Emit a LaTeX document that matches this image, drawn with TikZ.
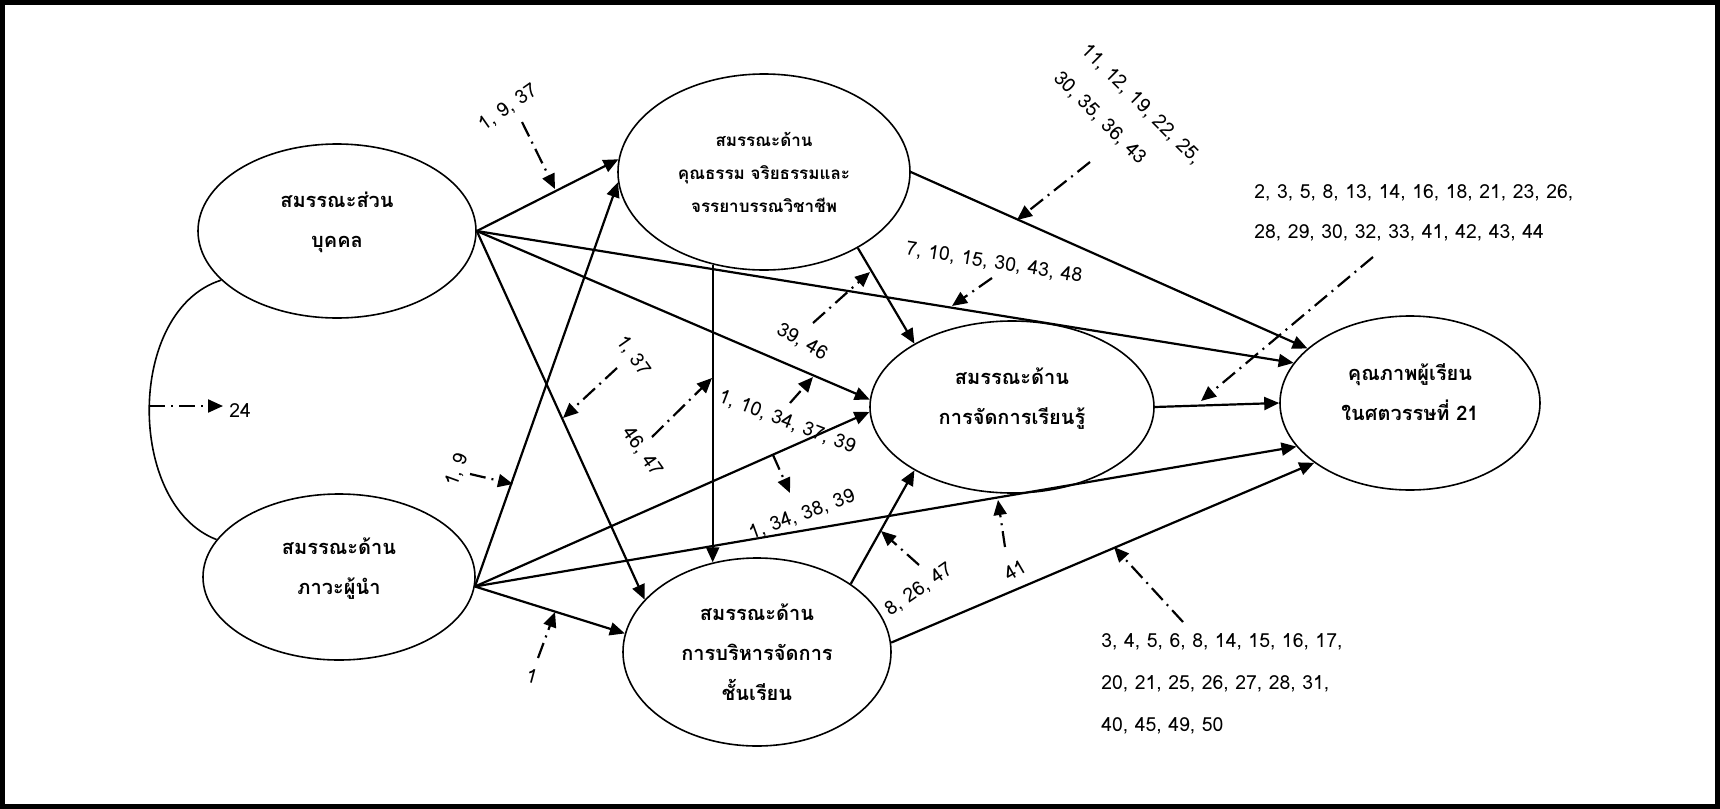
\documentclass[tikz,border=0pt]{standalone}
\usepackage{fontspec}
\setmainfont[Script=Thai]{Loma}
\usetikzlibrary{arrows.meta,shapes.geometric}
\newcommand\mylift{\rule[-11pt]{0pt}{11pt}}
\begin{document}
\begin{tikzpicture}[x=0.5pt,y=-0.5pt,
  ell/.style={draw, line width=0.8pt, ellipse, inner sep=0pt, align=center, font=\bfseries\fontsize{10}{20}\selectfont},
  arr/.style={-{Triangle[length=7.5pt,width=6.5pt]}, line width=1.1pt},
  mod/.style={-{Triangle[length=7.5pt,width=6.5pt]}, line width=1.1pt, dash pattern=on 8pt off 3pt on 1pt off 3pt},
  num/.style={font=\fontsize{9.7}{20.5}\selectfont, inner sep=0pt},
]
\useasboundingbox (0,0) rectangle (1720,809);
\draw[line width=2.5pt] (2.5,2.5) rectangle (1717.5,806.5);

% constructs
\node[ell, minimum width=139pt, minimum height=87pt] (e1) at (337,231) {สมรรณะส่วน\\บุคคล\mylift};
\node[ell, minimum width=136pt, minimum height=83pt] (e2) at (339,577) {สมรรณะด้าน\\ภาวะผู้นำ\mylift};
\node[ell, minimum width=146pt, minimum height=98pt, font=\bfseries\fontsize{8.5}{16.5}\selectfont] (e3) at (764,172) {สมรรณะด้าน\\คุณธรรม จริยธรรมและ\\จรรยาบรรณวิชาชีพ};
\node[ell, minimum width=142pt, minimum height=86pt] (e4) at (1012,407) {สมรรณะด้าน\\การจัดการเรียนรู้\mylift};
\node[ell, minimum width=134pt, minimum height=94pt] (e5) at (757,652) {สมรรณะด้าน\\การบริหารจัดการ\\ชั้นเรียน};
\node[ell, minimum width=130pt, minimum height=87pt] (e6) at (1410,403) {คุณภาพผู้เรียน\\ในศตวรรษที่ 21\mylift};

% covariance
\draw[line width=0.8pt] (e1.203) .. controls (126,310) and (126,505) .. (e2.163);

% paths
\draw[arr] (e1.east) -- (e3.175);
\draw[arr] (e1.east) -- (e5.155);
\draw[arr] (e1.east) -- (e4.177);
\draw[arr] (e1.east) -- (e6.161);
\draw[arr] (e2.-4) -- (e3.184);
\draw[arr] (e2.-4) -- (e4.182);
\draw[arr] (e2.-4) -- (e6.201);
\draw[arr] (e2.-4) -- (e5.172);
\draw[arr] (e3.241) -- (e5.116 -| e3.241);
\draw[arr] (e3.321) -- (e4.147);
\draw[arr] (e3.east) -- (e6.152);
\draw[arr] (e4.east) -- (e6.west);
\draw[arr] (e5.36) -- (e4.213);
\draw[arr] (e5.4) -- (e6.212);

% moderator labels
\node[num, anchor=west] (t24) at (229,411) {24};
\node[num, rotate=35] (t1937) at (508,108) {1, 9, 37};
\node[num, rotate=-45, anchor=west, align=left, font=\fontsize{9.7}{19.5}\selectfont] (t11) at (1070,61) {11, 12, 19, 22, 25,\\30, 35, 36, 43};
\node[num, align=left, anchor=west, font=\fontsize{9.7}{20}\selectfont] (t2) at (1254,213) {2, 3, 5, 8, 13, 14, 16, 18, 21, 23, 26,\\28, 29, 30, 32, 33, 41, 42, 43, 44};
\node[num, rotate=-9] (t7) at (994,263) {7, 10, 15, 30, 43, 48};
\node[num, rotate=-30] (t3946) at (802,342) {39, 46};
\node[num, rotate=-55] (t137) at (633,356) {1, 37};
\node[num, rotate=-55] (t4647) at (642,452) {46, 47};
\node[num, rotate=-21] (t110) at (787,422) {1, 10, 34, 37, 39};
\node[num, rotate=20] (t134) at (802,515) {1, 34, 38, 39};
\node[num, rotate=70] (t19) at (457,470) {1, 9};
\node[num, rotate=-15] (t1) at (532,676) {1};
\node[num, rotate=35] (t82647) at (919,590) {8, 26, 47};
\node[num, rotate=30] (t41) at (1015,570) {41};
\node[num, align=left, anchor=west, font=\fontsize{9.7}{21}\selectfont] (t3) at (1101,684) {3, 4, 5, 6, 8, 14, 15, 16, 17,\\20, 21, 25, 26, 27, 28, 31,\\40, 45, 49, 50};

% moderator arrows
\coordinate (a1s) at (149,406); \coordinate (a1e) at (223,406);
\coordinate (a2s) at (522,122); \coordinate (a2e) at (555,189);
\coordinate (a3s) at (1090,162); \coordinate (a3e) at (1017,220);
\coordinate (a4s) at (1373,257); \coordinate (a4e) at (1201,401);
\coordinate (a5s) at (992,278); \coordinate (a5e) at (952,306);
\coordinate (a6s) at (813,323); \coordinate (a6e) at (870,272);
\coordinate (a7s) at (617,368); \coordinate (a7e) at (563,418);
\coordinate (a8s) at (652,437); \coordinate (a8e) at (712,378);
\coordinate (a9s) at (790,403); \coordinate (a9e) at (813,377);
\coordinate (a10s) at (773,455); \coordinate (a10e) at (790,493);
\coordinate (a11s) at (470,474); \coordinate (a11e) at (513,484);
\coordinate (a12s) at (538,658); \coordinate (a12e) at (555,612);
\coordinate (a13s) at (919,565); \coordinate (a13e) at (881,531);
\coordinate (a14s) at (1005,547); \coordinate (a14e) at (998,500);
\coordinate (a15s) at (1183,622); \coordinate (a15e) at (1114,547);
\foreach \i in {1,...,15} {\draw[mod] (a\i s) -- (a\i e);}
\end{tikzpicture}
\end{document}
